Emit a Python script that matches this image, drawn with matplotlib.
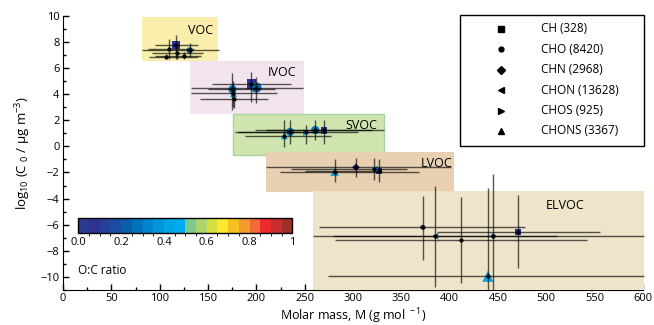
import matplotlib

matplotlib.use("Agg")
import matplotlib.pyplot as plt
import numpy as np
from matplotlib.cm import ScalarMappable
from matplotlib.colors import BoundaryNorm, ListedColormap
from matplotlib.patches import Rectangle
from matplotlib.ticker import MultipleLocator

plt.rcParams["font.family"] = ["Open Sans", "DejaVu Sans"]
plt.rcParams["mathtext.default"] = "regular"
plt.rcParams["font.size"] = 8.5

# --------------------------------------------------------------------------- #
# Data
# --------------------------------------------------------------------------- #

# volatility classes (extent in M and log10 C0)
box_names = ["VOC", "IVOC", "SVOC", "LVOC", "ELVOC"]
box_m_lo = [82, 131, 176, 210, 259]
box_m_hi = [160, 249, 332, 404, 601]
box_c_lo = [6.5, 2.5, -0.65, -3.5, -11]
box_c_hi = [9.9, 6.55, 2.5, -0.45, -3.45]

# class groups with their number of compounds
classes = ["CH", "CHO", "CHN", "CHON", "CHOS", "CHONS"]
class_counts = [328, 8420, 2968, 13628, 925, 3367]

# one entry per plotted point
pt_class = ["CH", "CHO", "CHO", "CHN", "CHON", "CHO",                # VOC
            "CH", "CHO", "CHO", "CHONS", "CHN",                      # IVOC
            "CHONS", "CHO", "CHOS", "CHO", "CH",                     # SVOC
            "CHONS", "CHN", "CHON", "CH",                            # LVOC
            "CHO", "CHON", "CHO", "CHO", "CH", "CHONS"]              # ELVOC
pt_m = [117, 131, 110, 118, 107, 125,
        194.5, 200, 175.3, 176.3, 177,
        229, 235, 251, 261, 270,
        281, 303, 322, 327,
        372, 385, 412, 445, 471, 439.5]
pt_c = [7.75, 7.35, 7.45, 7.15, 6.87, 6.92,
        4.77, 4.5, 4.36, 4.05, 3.6,
        0.8, 1.1, 1.06, 1.24, 1.24,
        -1.95, -1.6, -1.75, -1.9,
        -6.2, -6.88, -7.2, -6.87, -6.55, -9.95]
pt_m_lo = [95, 82, 88, 92, 89, 95,
           154, 132, 150, 132, 142,
           188, 181, 178, 199, 210,
           224, 210, 236, 250,
           265, 279, 281, 259, 387, 274]
pt_m_hi = [140, 161, 135, 145, 140, 143,
           236, 248, 219, 221, 212,
           277, 267, 305, 332, 320,
           368, 401, 356, 330,
           478, 511, 542, 601, 555, 601]
pt_c_lo = [6.7, 6.8, 6.7, 6.65, 6.65, 6.65,
           3.4, 3.3, 2.8, 3.0, 2.9,
           -0.05, 0.2, 0.2, 0.45, 0.2,
           -2.75, -2.35, -2.6, -2.75,
           -8.7, -10.8, -10.5, -11, -9.35, -11]
pt_c_hi = [8.5, 7.9, 8.2, 7.5, 7.1, 7.2,
           5.7, 5.3, 5.6, 5.0, 4.3,
           2.0, 2.0, 1.6, 2.0, 2.0,
           -0.95, -0.9, -0.9, -0.95,
           -3.8, -3.0, -3.9, -2.1, -3.75, -3.2]
pt_oc = [0.05, 0.3, 0.1, 0.1, 0.15, 0.2,
         0.05, 0.28, 0.35, 0.38, 0.1,
         0.42, 0.32, 0.47, 0.3, 0.05,
         0.42, 0.05, 0.42, 0.05,
         0.05, 0.3, 0.55, 0.3, 0.05, 0.42]

# O:C colour scale (20 steps of 0.05)
oc_colors = ["#2b3990", "#2e3192", "#283f99", "#1c4c9f", "#0b5ea8",
             "#0072bc", "#0085cc", "#0096d9", "#00a6e4", "#00aeef",
             "#7cc88f", "#afd36b", "#d7df3f", "#fde92c", "#f7c021",
             "#f59b2e", "#f16a35", "#ec2b2d", "#c92e2f", "#9e2f27"]
oc_ticks = [0.0, 0.2, 0.4, 0.6, 0.8, 1.0]
oc_ticklabels = ["0.0", "0.2", "0.4", "0.6", "0.8", "1"]

# --------------------------------------------------------------------------- #
# Styles
# --------------------------------------------------------------------------- #
box_fill = ["#f9eeab", "#f2e4ef", "#d0e4b0", "#e9d0b2", "#eee4ca"]
box_edge = ["none", "none", "#a6d69d", "none", "none"]
box_label_m = [142, 227, 309, 387, 519]
box_label_c = [8.9, 5.65, 1.6, -1.35, -4.55]
class_marker = {"CH": "s", "CHO": "o", "CHN": "D", "CHON": "<",
                "CHOS": ">", "CHONS": "^"}
pt_size = [6, 4.5, 2, 2, 2, 2,
           6.5, 7.5, 6, 5, 2,
           5, 6, 5, 6, 5,
           6, 4, 5, 4.5,
           3.5, 4.5, 3, 3.5, 4.5, 8]

cmap = ListedColormap(oc_colors)
norm = BoundaryNorm(np.linspace(0, 1, len(oc_colors) + 1), cmap.N)


def fx(px):
    return px / 654


def fy(py):
    return 1 - py / 325


fig = plt.figure(figsize=(6.54, 3.25), dpi=100)
ax = fig.add_axes([fx(63), fy(290), fx(580), fy(15.7) - fy(290)])

for i, name in enumerate(box_names):
    ax.add_patch(Rectangle((box_m_lo[i], box_c_lo[i]),
                           box_m_hi[i] - box_m_lo[i], box_c_hi[i] - box_c_lo[i],
                           facecolor=box_fill[i], edgecolor=box_edge[i],
                           lw=1.0, zorder=2.6, clip_on=False))
    ax.text(box_label_m[i], box_label_c[i], name, ha="center", va="center",
            fontsize=9, zorder=6)

pt_class_arr = np.array(pt_class)
m = np.array(pt_m)
c = np.array(pt_c)
oc = np.array(pt_oc)
size = np.array(pt_size)

for cls in classes:
    sel = pt_class_arr == cls
    if not sel.any():
        continue
    ax.scatter(m[sel], c[sel], c=oc[sel], cmap=cmap, norm=norm,
               s=size[sel] ** 2, marker=class_marker[cls], linewidths=0,
               zorder=3, clip_on=False)

ax.hlines(pt_c, pt_m_lo, pt_m_hi, colors="k", lw=1.0, alpha=0.65,
          zorder=4, clip_on=False)
ax.vlines(pt_m, pt_c_lo, pt_c_hi, colors="k", lw=1.0, alpha=0.65,
          zorder=4, clip_on=False)
ax.scatter(m, c, s=4, color="k", zorder=5, clip_on=False)

ax.set_xlim(0, 600)
ax.set_ylim(-11, 10)
for side in ("top", "right"):
    ax.spines[side].set_visible(False)
ax.xaxis.set_major_locator(MultipleLocator(50))
ax.xaxis.set_minor_locator(MultipleLocator(25))
ax.yaxis.set_major_locator(MultipleLocator(2))
ax.yaxis.set_minor_locator(MultipleLocator(1))
ax.tick_params(which="both", direction="in", labelsize=8, width=1)
ax.tick_params(which="major", length=4, pad=2.5)
ax.tick_params(which="minor", length=2.5)
ax.set_xlabel(r"Molar mass, M (g mol$^{\ -1}$)", fontsize=9, va="top")
ax.xaxis.set_label_coords(0.5, (290 - 306) / 274.3)
ax.set_ylabel(r"log$_{10}$ (C $_0$ / µg m$^{-3}$)", fontsize=9.5, labelpad=5)

# legend drawn by hand in figure pixels
fig.patches.append(Rectangle((fx(460), fy(146)), fx(644) - fx(460),
                             fy(15) - fy(146), transform=fig.transFigure,
                             facecolor="white", edgecolor="k", lw=1.0,
                             zorder=6))
rows_py = np.linspace(29, 131, len(classes))
for cls, n, py in zip(classes, class_counts, rows_py):
    ms = 3.5 if cls == "CHO" else 4.5
    fig.lines.append(plt.Line2D([fx(500.5)], [fy(py)], marker=class_marker[cls],
                                color="k", ms=ms, ls="none",
                                transform=fig.transFigure, zorder=7))
    fig.text(fx(541), fy(py), f"{cls} ({n})", ha="left", va="center",
             fontsize=8.5, zorder=7)

# O:C colour bar
cax = fig.add_axes([fx(78.3), fy(233.3), fx(292.3) - fx(78.3),
                    fy(218.3) - fy(233.3)])
cb = fig.colorbar(ScalarMappable(norm=norm, cmap=cmap), cax=cax,
                  orientation="horizontal", ticks=oc_ticks)
cb.set_ticklabels(oc_ticklabels)
cb.outline.set_linewidth(1.0)
cax.tick_params(length=0, labelsize=8, pad=3)
fig.text(fx(78.3), fy(270), "O:C ratio", ha="left", va="center", fontsize=8.5)

fig.savefig("out.png", dpi=100)
